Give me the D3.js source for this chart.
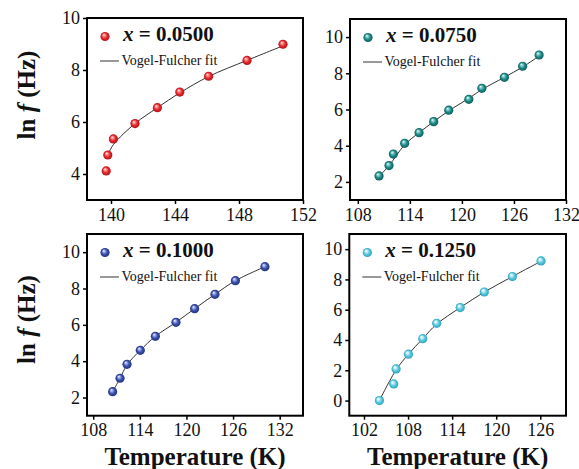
<!DOCTYPE html>
<html>
<head>
<meta charset="utf-8">
<script src="https://cdn.jsdelivr.net/npm/d3@7"></script>
<style>
  html, body { margin: 0; padding: 0; background: #fff; }
  svg { display: block; }
  svg text { font-family: "Liberation Serif", "Times New Roman", serif; }
</style>
</head>
<body>
<svg id="chart" width="579" height="469"></svg>
<script>
// ---------- DATA ----------
const compositions = ["0.0500", "0.0750", "0.1000", "0.1250"];

// x = 0.0500
const temp0500 = [139.7, 139.8, 140.15, 141.5, 142.9, 144.3, 146.1, 148.5, 150.75];
const lnf0500  = [4.12, 4.73, 5.35, 5.94, 6.55, 7.15, 7.76, 8.37, 8.99];
const fitT0500 = [139.8, 140.15, 141.5, 142.9, 144.3, 146.1, 148.5, 150.75];
const fitY0500 = [4.73, 5.13, 5.94, 6.55, 7.12, 7.75, 8.37, 8.93];

// x = 0.0750
const temp0750 = [110.45, 111.6, 112.1, 113.4, 115.06, 116.75, 118.48, 120.8, 122.3, 124.9, 127.0, 128.9];
const lnf0750  = [2.33, 2.9, 3.54, 4.13, 4.72, 5.33, 5.96, 6.56, 7.17, 7.78, 8.39, 9.01];
const fitT0750 = [110.45, 111.6, 113.4, 115.06, 116.75, 118.5, 120.8, 122.3, 124.9, 127.0, 128.9];
const fitY0750 = [2.3, 2.9, 4.05, 4.72, 5.33, 5.93, 6.62, 7.1, 7.78, 8.35, 8.95];

// x = 0.1000
const temp1000 = [110.5, 111.45, 112.35, 114.06, 116.0, 118.65, 121.05, 123.67, 126.3, 130.1];
const lnf1000  = [2.32, 3.06, 3.83, 4.6, 5.37, 6.14, 6.89, 7.68, 8.43, 9.2];
const fitT1000 = [110.5, 111.45, 112.35, 114.06, 116.0, 118.65, 121.05, 123.67, 126.3, 130.1];
const fitY1000 = [2.32, 3.06, 3.8, 4.6, 5.37, 6.14, 6.89, 7.68, 8.43, 9.2];

// x = 0.1250
const temp1250 = [104.1, 106.05, 106.37, 108.05, 110.0, 111.9, 115.1, 118.38, 122.2, 126.1];
const lnf1250  = [0.0, 1.1, 2.09, 3.06, 4.09, 5.1, 6.14, 7.17, 8.19, 9.22];
const fitT1250 = [104.1, 106.4, 108.05, 110.0, 111.9, 115.1, 118.4, 122.2, 126.1];
const fitY1250 = [0.0, 2.05, 3.06, 4.09, 5.05, 6.14, 7.17, 8.19, 9.2];

// tick labels
const xTicks0500 = [140, 144, 148, 152];
const yTicks0500 = [4, 6, 8, 10];
const xTicks0750 = [108, 114, 120, 126, 132];
const yTicks0750 = [2, 4, 6, 8, 10];
const xTicks1000 = [108, 114, 120, 126, 132];
const yTicks1000 = [2, 4, 6, 8, 10];
const xTicks1250 = [102, 108, 114, 120, 126];
const yTicks1250 = [0, 2, 4, 6, 8, 10];

const xDomains = [[138.5, 152], [107.1, 132], [107.2, 135], [100, 129.5]];
const yDomains = [[3, 10], [1, 11], [1, 11], [-1, 11]];

const fitLabel = "Vogel-Fulcher fit";
const xTitle = "Temperature (K)";

// ---------- LAYOUT / STYLE ----------
const SERIF = "Liberation Serif";
const frames = [
  {x0: 87,    x1: 303, y0: 18,  y1: 200},
  {x0: 350,   x1: 566, y0: 19,  y1: 200},
  {x0: 87,    x1: 303, y0: 234, y1: 415.7},
  {x0: 349.3, x1: 566, y0: 234, y1: 415.7}
];
const colors = [
  {base: "#e8282c", light: "#ff9c9c", dark: "#b01418"},
  {base: "#1f8a86", light: "#8fd6d2", dark: "#0d5f5c"},
  {base: "#3b4fab", light: "#a4b0ee", dark: "#24337d"},
  {base: "#5ac8de", light: "#d2f3fa", dark: "#2ea3bb"}
];

const panels = [
  {T: temp0500, Y: lnf0500, fT: fitT0500, fY: fitY0500, xt: xTicks0500, yt: yTicks0500},
  {T: temp0750, Y: lnf0750, fT: fitT0750, fY: fitY0750, xt: xTicks0750, yt: yTicks0750},
  {T: temp1000, Y: lnf1000, fT: fitT1000, fY: fitY1000, xt: xTicks1000, yt: yTicks1000},
  {T: temp1250, Y: lnf1250, fT: fitT1250, fY: fitY1250, xt: xTicks1250, yt: yTicks1250}
];

const svg = d3.select("#chart");
const defs = svg.append("defs");
colors.forEach((c, i) => {
  const g = defs.append("radialGradient")
    .attr("id", "sphere" + i)
    .attr("cx", "50%").attr("cy", "50%").attr("r", "50%")
    .attr("fx", "35%").attr("fy", "30%");
  g.append("stop").attr("offset", "0%").attr("stop-color", "#ffffff");
  g.append("stop").attr("offset", "22%").attr("stop-color", c.light);
  g.append("stop").attr("offset", "60%").attr("stop-color", c.base);
  g.append("stop").attr("offset", "100%").attr("stop-color", c.dark);
});

const R = 4.6;

panels.forEach((p, i) => {
  const f = frames[i];
  const x = d3.scaleLinear().domain(xDomains[i]).range([f.x0, f.x1]);
  const y = d3.scaleLinear().domain(yDomains[i]).range([f.y1, f.y0]);
  const g = svg.append("g");

  // axes
  const xa = g.append("g").attr("transform", `translate(0,${f.y1})`)
    .call(d3.axisBottom(x).tickValues(p.xt).tickSize(4).tickPadding(4).tickFormat(d3.format("d")));
  const ya = g.append("g").attr("transform", `translate(${f.x0},0)`)
    .call(d3.axisLeft(y).tickValues(p.yt).tickSize(4).tickPadding(3).tickFormat(d3.format("d")));
  [xa, ya].forEach(a => {
    a.attr("font-family", SERIF).attr("font-size", 18);
    a.select(".domain").remove();
    a.selectAll("line").attr("stroke", "#000").attr("stroke-width", 1.5);
    a.selectAll("text").attr("font-family", SERIF).attr("font-size", 18).attr("fill", "#111");
  });

  // frame
  g.append("rect")
    .attr("x", f.x0).attr("y", f.y0)
    .attr("width", f.x1 - f.x0).attr("height", f.y1 - f.y0)
    .attr("fill", "none").attr("stroke", "#000").attr("stroke-width", 2);

  // fit curve
  const line = d3.line().x((d, k) => x(p.fT[k])).y(d => y(d)).curve(d3.curveCatmullRom.alpha(0.5));
  g.append("path").datum(p.fY).attr("d", line)
    .attr("fill", "none").attr("stroke", "#333").attr("stroke-width", 1);

  // points
  g.selectAll("circle.pt").data(p.Y).join("circle")
    .attr("class", "pt")
    .attr("cx", (d, k) => x(p.T[k])).attr("cy", d => y(d)).attr("r", R)
    .attr("fill", `url(#sphere${i})`);

  // legend
  g.append("circle").attr("cx", f.x0 + 18).attr("cy", f.y0 + 18.5).attr("r", R)
    .attr("fill", `url(#sphere${i})`);
  const t = g.append("text").attr("x", f.x0 + 36).attr("y", f.y0 + 22.5)
    .attr("font-family", SERIF)
    .attr("font-size", 21).attr("font-weight", "bold").attr("fill", "#111");
  t.append("tspan").attr("font-style", "italic").text("x");
  t.append("tspan").text(" = " + compositions[i]);

  g.append("line").attr("x1", f.x0 + 13).attr("x2", f.x0 + 32)
    .attr("y1", f.y0 + 43).attr("y2", f.y0 + 43)
    .attr("stroke", "#333").attr("stroke-width", 1);
  g.append("text").attr("x", f.x0 + 34.5).attr("y", f.y0 + 47)
    .attr("font-family", SERIF)
    .attr("font-size", 14).attr("fill", "#111").text(fitLabel);

  // y-axis title for left column
  if (i === 0 || i === 2) {
    const cy = i === 0 ? 95 : 319.5;
    const yt = g.append("text")
      .attr("transform", `translate(35,${cy}) rotate(-90)`)
      .attr("text-anchor", "middle")
      .attr("font-family", SERIF)
      .attr("font-size", 25).attr("font-weight", "bold").attr("fill", "#111");
    yt.append("tspan").text("ln ");
    yt.append("tspan").attr("font-style", "italic").text("f");
    yt.append("tspan").text(" (Hz)");
  }
  // x-axis title for bottom row
  if (i === 2 || i === 3) {
    g.append("text")
      .attr("x", (f.x0 + f.x1) / 2).attr("y", 465)
      .attr("text-anchor", "middle")
      .attr("font-family", SERIF)
      .attr("font-size", 25).attr("font-weight", "bold").attr("fill", "#111")
      .text(xTitle);
  }
});
</script>
</body>
</html>
